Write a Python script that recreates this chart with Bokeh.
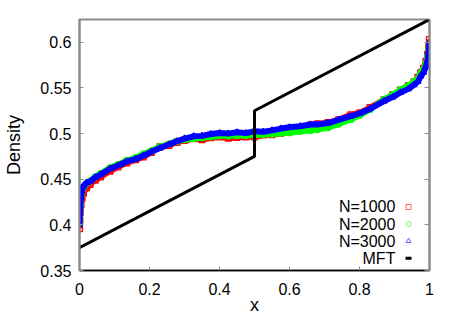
from bokeh.plotting import figure
from bokeh.models import Range1d, LinearAxis, FixedTicker, Label
from bokeh.embed import file_html
from bokeh.resources import INLINE

# ---------------- data ----------------
x_pos = [0, 0.001, 0.002, 0.004, 0.007, 0.011, 0.02, 0.03, 0.045, 0.06, 0.087,
         0.11, 0.135, 0.16, 0.182, 0.205, 0.23, 0.255, 0.278, 0.30, 0.326, 0.35,
         0.375, 0.40, 0.425, 0.45, 0.475, 0.50, 0.525, 0.55, 0.575, 0.60, 0.63,
         0.66, 0.68, 0.71, 0.74, 0.775, 0.80, 0.83, 0.87, 0.895, 0.917, 0.94,
         0.956, 0.967, 0.975, 0.983, 0.99, 0.995, 0.998, 1.0]

rho_n1000 = [0.396, 0.405, 0.414, 0.422, 0.429, 0.435, 0.4405, 0.4445, 0.449, 0.4525,
             0.459, 0.4635, 0.468, 0.4715, 0.4745, 0.4795, 0.4855, 0.487, 0.4905,
             0.4925, 0.4945, 0.4935, 0.4955, 0.4965, 0.4950, 0.4960, 0.4965, 0.4965,
             0.4985, 0.4990, 0.5005, 0.5030, 0.5050, 0.5095, 0.5105, 0.5120, 0.5150,
             0.5205, 0.5225, 0.5285, 0.5370, 0.5425, 0.5475, 0.5525, 0.5565, 0.5615,
             0.5665, 0.5715, 0.5790, 0.5870, 0.5950, 0.603]

rho_n2000 = [0.402, 0.414, 0.421, 0.431, 0.436, 0.441, 0.4455, 0.448, 0.4525, 0.456,
             0.4625, 0.466, 0.4705, 0.4735, 0.4775, 0.481, 0.4855, 0.4885, 0.4915,
             0.4935, 0.4945, 0.4955, 0.4965, 0.4975, 0.4975, 0.498, 0.498, 0.4985,
             0.499, 0.4995, 0.5005, 0.501, 0.5025, 0.5035, 0.5045, 0.5065, 0.5105,
             0.5155, 0.520, 0.5265, 0.5375, 0.5425, 0.548, 0.5525, 0.557, 0.5605,
             0.566, 0.5705, 0.577, 0.584, 0.592, 0.598]

rho_n3000 = [0.400, 0.412, 0.422, 0.430, 0.437, 0.4425, 0.446, 0.4475, 0.452, 0.455,
             0.4615, 0.465, 0.4695, 0.472, 0.4758, 0.480, 0.4842, 0.488, 0.4916,
             0.4945, 0.497, 0.4975, 0.4995, 0.5007, 0.500, 0.5015, 0.5005, 0.5025,
             0.502, 0.5035, 0.5055, 0.507, 0.508, 0.510, 0.510, 0.5115, 0.515, 0.519,
             0.522, 0.527, 0.5356, 0.540, 0.545, 0.549, 0.5535, 0.557, 0.563, 0.567,
             0.574, 0.581, 0.590, 0.600]

mft_x = [0, 0.5, 0.5, 1.0]
mft_rho = [0.375, 0.475, 0.525, 0.625]

x_ticks = [0, 0.2, 0.4, 0.6, 0.8, 1.0]
x_tick_labels = ["0", "0.2", "0.4", "0.6", "0.8", "1"]
y_ticks = [0.35, 0.4, 0.45, 0.5, 0.55, 0.6]
y_tick_labels = ["0.35", "0.4", "0.45", "0.5", "0.55", "0.6"]

series_names = ["N=1000", "N=2000", "N=3000", "MFT"]
x_title = "x"
y_title = "Density"

# ---------------- styling / layout ----------------
FONT = "Liberation Sans"
RED, GREEN, BLUE = "#ff0000", "#00ff00", "#0000ff"
GRAY = "#8c8c8c"

p = figure(frame_width=350, frame_height=251, output_backend="svg",
           toolbar_location=None,
           x_range=Range1d(0, 1), y_range=Range1d(0.35, 0.625),
           min_border_left=79, min_border_right=18, min_border_top=19,
           min_border_bottom=54)
p.background_fill_color = "white"
p.border_fill_color = "white"
p.outline_line_color = GRAY
p.outline_line_width = 2
p.xgrid.visible = False
p.ygrid.visible = False

# data bands
for ys, col, mk in [(rho_n1000, RED, "square"), (rho_n2000, GREEN, "circle"),
                    (rho_n3000, BLUE, "triangle")]:
    p.line(x_pos, ys, line_color=col, line_width=6)
    p.scatter(x_pos, ys, marker=mk, size=6, line_color=col, fill_color=None,
              line_width=1.3)

# MFT
p.line(mft_x, mft_rho, line_color="black", line_width=3)

# axes
xa = p.xaxis[0]
xa.ticker = FixedTicker(ticks=x_ticks)
xa.major_label_overrides = {t: l for t, l in zip(x_ticks, x_tick_labels)}
xa.axis_label = x_title
ya = p.yaxis[0]
ya.ticker = FixedTicker(ticks=y_ticks)
ya.major_label_overrides = {t: l for t, l in zip(y_ticks, y_tick_labels)}
ya.axis_label = y_title

for ax in (xa, ya):
    ax.major_tick_in = 4
    ax.major_tick_out = 0
    ax.minor_tick_line_color = None
    ax.major_tick_line_color = GRAY
    ax.major_label_text_font = FONT
    ax.major_label_text_font_size = "16px"
    ax.major_label_text_color = "black"
    ax.axis_label_text_font = FONT
    ax.axis_label_text_font_size = "18px"
    ax.axis_label_text_font_style = "normal"
    ax.axis_label_text_color = "black"
xa.axis_line_color = "black"
xa.axis_line_width = 1.5
ya.axis_line_color = GRAY
ya.axis_line_width = 2
xa.major_label_standoff = 12
xa.axis_label_standoff = -3
ya.major_label_standoff = 8
ya.axis_label_standoff = 13

ra = LinearAxis(ticker=FixedTicker(ticks=y_ticks))
ra.major_tick_in = 5
ra.major_tick_out = 0
ra.minor_tick_line_color = None
ra.major_tick_line_color = GRAY
ra.axis_line_color = GRAY
ra.axis_line_width = 2
ra.major_label_text_color = None
ra.major_label_text_font_size = "1px"
ra.major_label_standoff = 0
p.add_layout(ra, "right")

# legend (gnuplot style: text right-aligned, key to the right)
leg_text_x = 0.9026
leg_key_x = 0.94
leg_ys = [0.4196, 0.4009, 0.3822, 0.3634]
for name, ly in zip(series_names, leg_ys):
    p.add_layout(Label(x=leg_text_x, y=ly, text=name, text_align="right",
                       text_baseline="middle", text_font=FONT,
                       text_font_size="16px", text_color="black"))
p.scatter([leg_key_x], [leg_ys[0]], marker="square", size=5, line_color=RED,
          fill_color=None, line_width=1, line_alpha=0.6)
p.scatter([leg_key_x], [leg_ys[1]], marker="circle", size=5, line_color=GREEN,
          fill_color=None, line_width=1, line_alpha=0.6)
p.scatter([leg_key_x], [leg_ys[2]], marker="triangle", size=5, line_color=BLUE,
          fill_color=None, line_width=1, line_alpha=0.6)
p.scatter([leg_key_x], [leg_ys[3]], marker="dash", size=6, line_color="black",
          line_width=3)

open("out.html", "w").write(file_html(p, INLINE))
